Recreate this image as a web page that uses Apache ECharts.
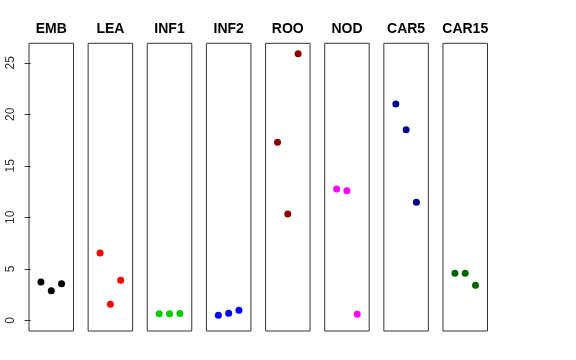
<!DOCTYPE html>
<html><head><meta charset="utf-8">
<script src="https://cdn.jsdelivr.net/npm/echarts@6/dist/echarts.min.js"></script>
<style>html,body{margin:0;padding:0;background:#fff}#c{width:576px;height:360px}</style>
</head><body><div id="c"></div>
<script>
const categories = ['EMB','LEA','INF1','INF2','ROO','NOD','CAR5','CAR15'];
const colors = ['#000000','#FF0000','#00CD00','#0000FF','#8B0000','#FF00FF','#00008B','#006400'];
const xPos = [1, 2, 3];
const valEMB = [3.72, 2.87, 3.55];
const valLEA = [6.53, 1.55, 3.88];
const valINF1 = [0.64, 0.64, 0.66];
const valINF2 = [0.49, 0.68, 0.97];
const valROO = [17.28, 10.32, 25.88];
const valNOD = [12.75, 12.58, 0.58];
const valCAR5 = [21.0, 18.5, 11.46];
const valCAR15 = [4.56, 4.56, 3.4];
const yTicks = [0, 5, 10, 15, 20, 25];

(function () {
  const allVals = [valEMB, valLEA, valINF1, valINF2, valROO, valNOD, valCAR5, valCAR15];
  const n = categories.length;
  const left0 = 29, step = 59.14, w = 44.5, gTop = 43.3, gH = 287.7;
  const grids = [], xAxes = [], yAxes = [], series = [], graphics = [];
  for (let i = 0; i < n; i++) {
    const l = left0 + i * step;
    grids.push({left: l, top: gTop, width: w, height: gH, show: true, borderColor: '#333', borderWidth: 1, backgroundColor: 'transparent'});
    xAxes.push({type: 'value', gridIndex: i, min: -0.16, max: 4.16, show: false});
    yAxes.push({
      type: 'value', gridIndex: i, min: -1.04, max: 26.9,
      splitLine: {show: false}, axisLine: {show: false},
      axisTick: {show: i === 0, length: 6, lineStyle: {color: '#333'}, customValues: yTicks},
      axisLabel: {show: i === 0, rotate: 90, margin: 12, fontSize: 12, color: '#333', fontFamily: 'Liberation Sans, Arial, sans-serif', customValues: yTicks}
    });
    series.push({
      type: 'scatter', xAxisIndex: i, yAxisIndex: i, symbolSize: 7,
      itemStyle: {color: colors[i], opacity: 1},
      data: xPos.map((x, k) => [x, allVals[i][k]])
    });
    graphics.push({type: 'text', x: l + w / 2, y: 29, style: {text: categories[i], textAlign: 'center', textVerticalAlign: 'middle', font: 'bold 14px "Liberation Sans", Arial, sans-serif', fill: '#000'}});
  }
  const chart = echarts.init(document.getElementById('c'), null, {renderer: 'canvas'});
  chart.setOption({
    animation: false,
    grid: grids, xAxis: xAxes, yAxis: yAxes, series: series, graphic: graphics
  });
})();
</script></body></html>
